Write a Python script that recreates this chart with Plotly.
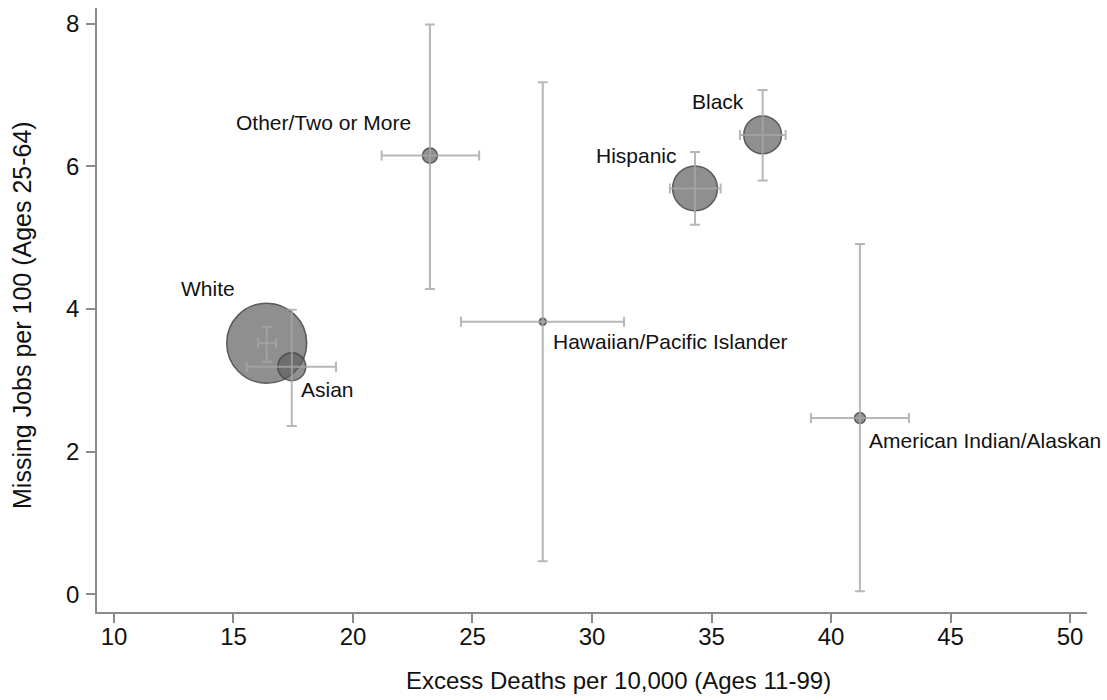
import plotly.graph_objects as go

# ---------------- data ----------------
groups = ["White", "Asian", "Other/Two or More", "Hawaiian/Pacific Islander",
          "Black", "Hispanic", "American Indian/Alaskan"]
excess_deaths = [16.39, 17.44, 23.22, 27.94, 37.14, 34.31, 41.21]
deaths_lo = [16.03, 15.55, 21.20, 24.52, 36.19, 33.26, 39.16]
deaths_hi = [16.78, 19.29, 25.28, 31.34, 38.10, 35.38, 43.26]
missing_jobs = [3.52, 3.19, 6.15, 3.82, 6.44, 5.69, 2.47]
jobs_lo = [3.26, 2.36, 4.28, 0.46, 5.80, 5.18, 0.04]
jobs_hi = [3.75, 3.99, 7.99, 7.18, 7.07, 6.20, 4.91]
population = [197, 24, 7, 1.5, 44, 62, 3.7]   # bubble weights (millions)
x_ticks = [10, 15, 20, 25, 30, 35, 40, 45, 50]
y_ticks = [0, 2, 4, 6, 8]
x_title = "Excess Deaths per 10,000 (Ages 11-99)"
y_title = "Missing Jobs per 100 (Ages 25-64)"

# ---------------- style ----------------
FONT = "Liberation Sans, Arial, Helvetica, sans-serif"
AXIS_COL = "#8c8c8c"
MAX_DIAM = 80
W, H = 1107, 700
ML, MR, MT, MB = 97, 20, 8, 88
PW, PH = W - ML - MR, H - MT - MB
label_style = {
    "White": dict(xanchor="right", xshift=-30, yshift=55),
    "Asian": dict(xanchor="left", xshift=7, yshift=-23),
    "Other/Two or More": dict(xanchor="right", xshift=-17, yshift=33),
    "Hawaiian/Pacific Islander": dict(xanchor="left", xshift=8, yshift=-20),
    "Black": dict(xanchor="right", xshift=-17, yshift=33),
    "Hispanic": dict(xanchor="right", xshift=-16, yshift=33),
    "American Indian/Alaskan": dict(xanchor="left", xshift=7, yshift=-22),
}

fig = go.Figure()

# bubbles
fig.add_trace(go.Scatter(
    x=excess_deaths, y=missing_jobs, mode="markers",
    marker=dict(size=population, sizemode="area", opacity=1,
                sizeref=2 * max(population) / MAX_DIAM ** 2,
                color="rgba(96,96,96,0.70)",
                line=dict(color="rgba(70,70,70,0.85)", width=1.5)),
    hoverinfo="skip", showlegend=False,
))

# error bars drawn on top
fig.add_trace(go.Scatter(
    x=excess_deaths, y=missing_jobs, mode="markers",
    marker=dict(size=0, opacity=0),
    error_x=dict(type="data", symmetric=False,
                 array=[h - v for h, v in zip(deaths_hi, excess_deaths)],
                 arrayminus=[v - l for l, v in zip(deaths_lo, excess_deaths)],
                 color="rgba(165,165,165,0.8)", thickness=2, width=5),
    error_y=dict(type="data", symmetric=False,
                 array=[h - v for h, v in zip(jobs_hi, missing_jobs)],
                 arrayminus=[v - l for l, v in zip(jobs_lo, missing_jobs)],
                 color="rgba(165,165,165,0.8)", thickness=2, width=5),
    hoverinfo="skip", showlegend=False,
))

for g, xv, yv in zip(groups, excess_deaths, missing_jobs):
    fig.add_annotation(x=xv, y=yv, text=g, showarrow=False,
                       yanchor="middle", font=dict(family=FONT, size=21, color="#111"),
                       **label_style[g])

# axis titles (placed as paper annotations)
fig.add_annotation(text=x_title, xref="paper", yref="paper",
                   x=(618 - ML) / PW, y=-(680 - MT - PH) / PH,
                   xanchor="center", yanchor="middle", showarrow=False,
                   font=dict(family=FONT, size=24, color="#111"))
fig.add_annotation(text=y_title, xref="paper", yref="paper",
                   x=-(ML - 22) / PW, y=(MT + PH - 315) / PH, textangle=-90,
                   xanchor="center", yanchor="middle", showarrow=False,
                   font=dict(family=FONT, size=25, color="#111"))

axis_common = dict(showgrid=False, zeroline=False, showline=True,
                   linecolor=AXIS_COL, linewidth=1.5, ticks="outside",
                   ticklen=9, tickwidth=1.5, tickcolor=AXIS_COL, automargin=False,
                   tickfont=dict(family=FONT, size=24, color="#111"))

fig.update_layout(
    width=W, height=H,
    margin=dict(l=ML, r=MR, t=MT, b=MB),
    paper_bgcolor="white", plot_bgcolor="white",
    font=dict(family=FONT, color="#111"),
    xaxis=dict(range=[9.29, 50.71], tickvals=x_ticks, ticklabelstandoff=-7,
               **axis_common),
    yaxis=dict(range=[-0.25, 8.22], tickvals=y_ticks, ticklabelstandoff=2,
               **axis_common),
)

fig.write_html("out.html", config={"displayModeBar": False},
               post_script="document.body.style.margin='0';document.body.style.overflow='hidden';")
